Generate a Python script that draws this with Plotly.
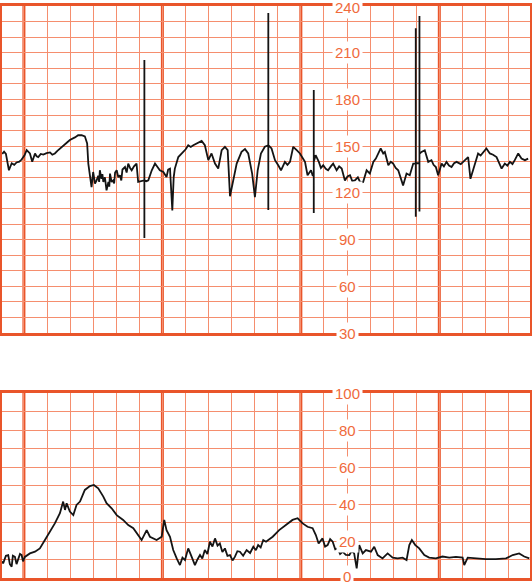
import plotly.graph_objects as go

# fetal heart rate (bpm) vs time (s); spikes are repeated time values
fhr_t = [-9.4, -8.6, -7.8, -6.5, -5.3, -4.2, -3.2, -2.0, -1.0, 0.2, 1.2, 2.6, 3.6, 4.8, 5.5, 6.2, 7.3, 8.4,
         9.8, 11.3, 12.3, 13.4, 14.5, 15.6, 16.7, 17.8, 18.8, 19.9, 21.0, 22.1, 23.5, 25.0, 26.4, 27.4, 27.9,
         28.6, 29.3, 30.0, 30.4, 30.8, 31.5, 32.2, 32.6, 32.9, 33.6, 34.0, 34.4, 35.1, 35.8, 36.6, 37.0, 37.3,
         38.0, 38.7, 39.1, 39.5, 40.2, 40.9, 41.6, 42.2, 42.7, 43.8, 44.5, 45.2, 46.0, 46.7, 47.7, 48.8, 49.5,
         50.6, 51.7, 52.2, 52.2, 52.2, 52.2, 53.1, 53.9, 55.4, 56.8, 58.9, 60.4, 61.8, 62.5, 63.3, 64.3, 64.9,
         65.4, 66.9, 69.0, 70.1, 71.2, 72.3, 73.4, 74.8, 75.9, 77.0, 78.4, 79.9, 81.3, 82.8, 84.2, 85.7, 87.1,
         88.3, 89.3, 90.7, 92.2, 94.3, 95.8, 97.2, 98.9, 100.1, 101.3, 102.7, 104.4, 105.9, 105.9, 105.9,
         105.9, 107.3, 108.8, 110.2, 111.4, 113.1, 114.2, 115.3, 116.7, 118.2, 119.6, 121.8, 122.9, 124.4,
         125.1, 125.6, 125.6, 125.6, 125.6, 126.4, 127.8, 128.7, 129.7, 130.8, 131.8, 133.0, 134.0, 135.5,
         136.6, 137.7, 139.1, 140.2, 141.3, 142.3, 143.4, 144.7, 145.8, 147.0, 148.5, 149.9, 151.4, 152.5,
         153.5, 154.6, 155.7, 156.4, 157.9, 159.0, 160.0, 161.1, 162.2, 164.3, 165.8, 167.2, 168.7, 169.8,
         169.8, 169.8, 169.8, 171.4, 171.4, 171.4, 171.4, 172.3, 173.7, 175.2, 176.6, 177.5, 178.5, 179.5,
         181.0, 182.0, 183.1, 184.2, 185.3, 186.4, 187.5, 189.3, 191.1, 192.5, 193.5, 195.4, 196.8, 197.9,
         199.0, 200.4, 201.9, 203.3, 204.8, 207.0, 208.4, 209.5, 210.6, 211.7, 212.7, 214.2, 215.6, 217.1,
         218.5]
fhr_bpm = [145, 146.5, 145, 134.5, 139, 138, 139.5, 140, 141.4, 144, 147.4, 145.3, 140, 145.3, 143.5, 143, 145, 144.6,
           145.5, 146, 144.5, 145.3, 147, 148.5, 150, 151.7, 152.5, 153.9, 154.5, 155.6, 157, 157.1, 156.3, 151.7, 138.8,
           130, 123.7, 133.4, 129, 126, 128, 131, 127, 134.5, 129, 132, 127, 130, 121.6, 127, 124, 132.4,
           127, 128, 126, 133, 134.5, 130, 131.3, 128, 135, 136.6, 133, 138.8, 136, 134.5, 137, 138.8, 127,
           127.5, 128, 128, 205.3, 91, 128, 127.5, 128, 134.5, 138.8, 134.5, 133.4, 130.2, 135, 135.6, 108.7,
           130, 135.6, 143, 146.3, 148, 150.6, 149.5, 150.6, 151.7, 152.5, 153.4, 150.6, 141, 145.3, 138.8,
           135.6, 147.4, 149.6, 147.4, 117.8, 128, 138.8, 146.3, 148.1, 145.3, 132.4, 117.3, 134.5, 145.3,
           149.6, 150.6, 235.5, 109, 150.6, 148.5, 141, 137.7, 134.5, 139.9, 138, 139.9, 149.6, 147.4, 145.3,
           139.9, 131.3, 134.5, 131.3, 131.3, 186, 107, 140, 144.2, 139.9, 136, 137.7, 135.5, 134.5, 137, 138.8,
           134.5, 137, 135.6, 128, 130.5, 131.3, 127.5, 128, 130, 126.5, 127, 134.5, 132.4, 139.9, 142, 145.3,
           148.5, 145.3, 146.3, 137.7, 140, 138.8, 136, 134.5, 124.8, 132.4, 131.3, 138.8, 138.8, 225.7,
           104.7, 139, 139, 233.6, 108, 145, 146.3, 147.4, 139.9, 141, 138, 136.6, 131.3, 138.8, 137,
           139.9, 137.5, 136.6, 139, 139.9, 138.5, 141, 143, 129, 138.8, 145.3, 144, 146.3, 148.5,
           145.3, 144.5, 143, 135.6, 138.8, 137.5, 139.9, 138.5, 141, 145.3, 142, 141, 142]

# uterine contractions vs time (s)
uc_t = [-9.5, -9.0, -7.8, -6.8, -6.1, -5.3, -4.8, -3.9, -3.2, -2.5, -1.7, -1.0, -0.4, 0.4, 2.6, 4.8,
        6.9, 9.1, 11.3, 13.4, 15.6, 17.0, 17.8, 18.5, 19.9, 21.4, 22.8, 24.3, 26.4, 28.6, 30.3, 32.2,
        34.4, 35.8, 38.0, 40.2, 43.0, 45.2, 47.4, 49.5, 51.0, 53.2, 54.6, 57.5, 59.7, 60.8, 61.8, 63.3,
        64.7, 66.2, 67.6, 68.7, 69.8, 70.5, 71.2, 72.7, 74.1, 75.2, 76.3, 77.3, 78.4, 79.5, 80.6, 81.7,
        82.8, 83.9, 84.9, 86.0, 87.1, 88.2, 89.3, 90.4, 91.4, 92.5, 93.6, 95.0, 96.5, 98.0, 99.4, 100.5,
        101.5, 102.6, 103.7, 104.9, 107.8, 110.6, 113.5, 116.4, 118.6, 120.8, 122.9, 125.1, 126.5,
        127.7, 129.4, 130.5, 131.6, 132.7, 133.8, 134.9, 135.9, 137.0, 138.1, 139.5, 141.0, 142.0,
        143.1, 144.2, 145.3, 146.8, 148.2, 150.4, 151.8, 153.3, 155.4, 157.6, 159.8, 161.9, 164.1,
        165.8, 167.0, 168.1, 169.6, 171.3, 173.5, 175.6, 178.5, 181.4, 184.3, 187.2, 190.1, 190.8,
        192.3, 195.9, 200.2, 204.5, 208.9, 211.8, 214.6, 216.8, 219.0]
uc_val = [9, 7.9, 12, 12.4, 7.5, 6.1, 12, 11.4, 7.5, 9.7, 13, 12.4, 9, 11.4, 13.3, 14.2,
          16, 20.5, 25, 29.5, 35, 41.3, 36.8, 40.4, 35.9, 34, 39.5, 41.3, 47.6, 49.7, 50.3, 48.5,
          44, 40.4, 37.7, 34, 31.4, 28.6, 26.9, 23.2, 20.5, 25.9, 22.3, 20.5, 22.3, 31.4, 25.9, 22.3,
          15.1, 10.6, 7, 11, 9.7, 13, 16, 11.4, 7, 10, 12.4, 10.5, 15.1, 13, 19.6, 17,
          21.4, 17.5, 18.7, 14, 16, 12, 12.4, 9.5, 11.4, 14.5, 14.2, 12, 15.1, 13.5, 16.9, 15,
          17.8, 16.5, 20.5, 19.6, 22.3, 25.9, 28.6, 31.4, 32.3, 29.5, 27.7, 26.9, 23.2,
          18.7, 21.4, 17, 17.8, 21, 19.6, 15.5, 16, 13, 14.2, 12.5, 12.4, 14.5,
          13.3, 5.2, 17.8, 13.3, 15.1, 14.2, 16.9, 12.4, 10.6, 13.3, 11, 10.6, 11,
          9.7, 17.8, 20.5, 17.8, 16, 12.4, 11, 10.6, 11.6, 11, 11.4, 11, 7,
          11, 10.6, 10.2, 10.2, 10.6, 12.4, 13.3, 11.6, 10.6]

hr_ticks = [30, 60, 90, 120, 150, 180, 210, 240]
uc_ticks = [0, 20, 40, 60, 80, 100]
minute_lines = [0, 60, 120, 180]

THICK = "#e9552a"
THIN = "#f58e6e"
LABEL = "#f06a3c"

fig = go.Figure()
fig.add_trace(go.Scatter(x=fhr_t, y=fhr_bpm, mode="lines", xaxis="x", yaxis="y",
                         line=dict(color="#141414", width=1.8), hoverinfo="skip"))
fig.add_trace(go.Scatter(x=uc_t, y=uc_val, mode="lines", xaxis="x2", yaxis="y2",
                         line=dict(color="#141414", width=1.8), hoverinfo="skip"))

x_range = [-9.5, 219.3]
grid_x = dict(range=x_range, dtick=10, tick0=0, showgrid=True, gridcolor=THIN, gridwidth=1,
              showticklabels=False, ticks="", zeroline=False, showline=True, mirror=True,
              linecolor=THICK, linewidth=3, domain=[2 / 532, 530 / 532], fixedrange=True)
grid_y = dict(dtick=10, tick0=0, showgrid=True, gridcolor=THIN, gridwidth=1, showticklabels=False,
              ticks="", zeroline=False, showline=True, mirror=True, linecolor=THICK, linewidth=3,
              fixedrange=True)

fig.update_layout(
    width=532, height=584,
    margin=dict(l=0, r=0, t=0, b=0),
    paper_bgcolor="white", plot_bgcolor="white",
    showlegend=False,
    xaxis=dict(grid_x, anchor="y"),
    yaxis=dict(grid_y, range=[30, 240], domain=[251 / 584, 578 / 584], anchor="x"),
    xaxis2=dict(grid_x, anchor="y2"),
    yaxis2=dict(grid_y, range=[0, 100], domain=[6 / 584, 191 / 584], anchor="x2"),
)

for xr, yr in [("x", "y"), ("x2", "y2")]:
    for m in minute_lines:
        fig.add_shape(type="line", xref=xr, yref=yr + " domain", x0=m, x1=m, y0=0, y1=1,
                      line=dict(color=THICK, width=3), layer="below")

label_font = dict(family="Liberation Sans, Arial", size=15, color=LABEL)
for v in hr_ticks:
    fig.add_annotation(x=140, y=v, xref="x", yref="y", text=str(v), showarrow=False,
                       bgcolor="white", borderpad=2, yshift=-1 if v == 240 else 0,
                       font=label_font)
for v in uc_ticks:
    fig.add_annotation(x=140, y=v, xref="x2", yref="y2", text=str(v), showarrow=False,
                       bgcolor="white", borderpad=2, yshift=2 if v == 0 else 0,
                       font=label_font)

# drop the default page margin so the figure fills the window
fig.write_html("out.html", config={"displayModeBar": False},
               post_script="document.body.style.margin='0px';")
